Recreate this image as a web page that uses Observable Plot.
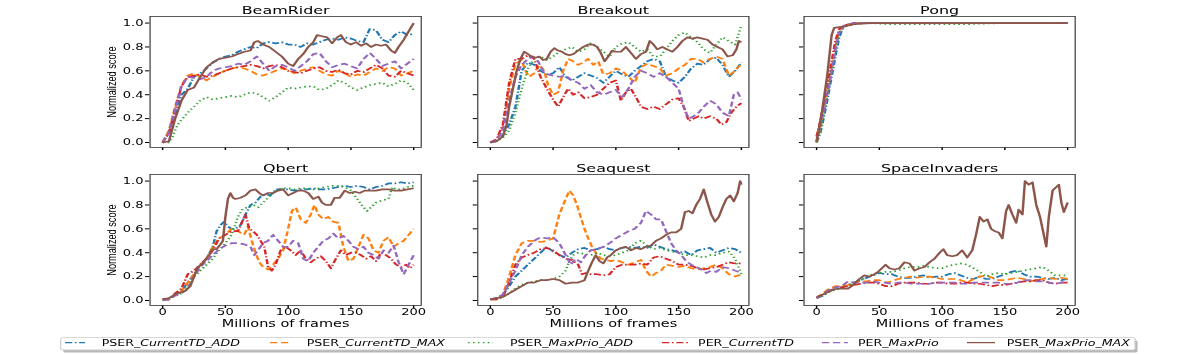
<!DOCTYPE html>
<html><head><meta charset="utf-8">
<script src="https://cdn.jsdelivr.net/npm/d3@7"></script>
<script src="https://cdn.jsdelivr.net/npm/@observablehq/plot@0.6"></script>
<style>
html,body{margin:0;padding:0;background:#fff;overflow:hidden;width:1196px;height:354px;}
#fig{position:absolute;left:0;top:0;width:825px;height:354px;transform:scaleX(1.45);transform-origin:0 0;font-family:"DejaVu Sans";}
.panel{position:absolute;}
</style></head>
<body><div id="fig"></div>
<script>
// ---------------- data ----------------
const games = ["BeamRider", "Breakout", "Pong", "Qbert", "Seaquest", "SpaceInvaders"];
const seriesNames = ["PSER_CurrentTD_ADD", "PSER_CurrentTD_MAX", "PSER_MaxPrio_ADD", "PER_CurrentTD", "PER_MaxPrio", "PSER_MaxPrio_MAX"];
const xTicks = [0, 50, 100, 150, 200];
const yTicks = [0, 0.2, 0.4, 0.6, 0.8, 1.0];
const xLabel = "Millions of frames";
const yLabel = "Normalized score";

// BeamRider
const beamRider_PSER_CurrentTD_ADD = [[0,0],[5,0.08],[10,0.22],[15,0.4],[20,0.45],[25,0.55],[30,0.58],[35,0.62],[40,0.67],[45,0.7],[50,0.72],[55,0.73],[60,0.76],[65,0.78],[70,0.8],[75,0.79],[80,0.83],[85,0.84],[90,0.83],[95,0.84],[100,0.82],[105,0.82],[110,0.8],[115,0.83],[120,0.82],[125,0.84],[130,0.86],[135,0.87],[140,0.86],[145,0.88],[150,0.87],[155,0.85],[160,0.84],[165,0.95],[170,0.94],[175,0.86],[180,0.84],[185,0.9],[190,0.93],[195,0.9],[200,0.91]];
const beamRider_PSER_CurrentTD_MAX = [[0,0],[5,0.1],[10,0.3],[15,0.48],[20,0.56],[25,0.58],[30,0.55],[35,0.52],[40,0.55],[45,0.58],[50,0.6],[55,0.62],[60,0.63],[65,0.62],[70,0.6],[75,0.57],[80,0.56],[85,0.58],[90,0.6],[95,0.62],[100,0.61],[105,0.58],[110,0.6],[115,0.62],[120,0.63],[125,0.6],[130,0.57],[135,0.56],[140,0.6],[145,0.58],[150,0.55],[155,0.57],[160,0.56],[165,0.59],[170,0.62],[175,0.6],[180,0.63],[185,0.62],[190,0.56],[195,0.58],[200,0.6]];
const beamRider_PSER_MaxPrio_ADD = [[0,0],[5,0],[8,0.05],[12,0.15],[16,0.2],[20,0.25],[25,0.3],[30,0.35],[35,0.38],[40,0.36],[45,0.37],[50,0.38],[55,0.39],[60,0.38],[65,0.4],[70,0.42],[75,0.41],[80,0.38],[85,0.35],[90,0.38],[95,0.42],[100,0.46],[105,0.45],[110,0.46],[115,0.47],[120,0.47],[125,0.44],[130,0.45],[135,0.48],[140,0.52],[145,0.5],[150,0.46],[155,0.44],[160,0.46],[165,0.48],[170,0.49],[175,0.5],[180,0.47],[185,0.49],[190,0.52],[195,0.5],[200,0.44]];
const beamRider_PER_CurrentTD = [[0,0],[5,0.08],[10,0.28],[15,0.47],[20,0.55],[25,0.56],[30,0.57],[35,0.55],[40,0.56],[45,0.58],[50,0.6],[55,0.62],[60,0.63],[65,0.64],[70,0.65],[75,0.64],[80,0.62],[85,0.64],[90,0.65],[95,0.63],[100,0.6],[105,0.59],[110,0.58],[115,0.6],[120,0.62],[125,0.63],[130,0.6],[135,0.59],[140,0.61],[145,0.58],[150,0.57],[155,0.6],[160,0.59],[165,0.62],[170,0.65],[175,0.62],[180,0.56],[185,0.55],[190,0.6],[195,0.58],[200,0.56]];
const beamRider_PER_MaxPrio = [[0,0],[5,0.08],[10,0.27],[15,0.47],[20,0.55],[25,0.54],[30,0.53],[35,0.55],[40,0.6],[45,0.62],[50,0.63],[55,0.64],[60,0.66],[65,0.65],[70,0.68],[75,0.72],[80,0.66],[85,0.6],[90,0.64],[95,0.65],[100,0.63],[105,0.6],[110,0.64],[115,0.68],[120,0.74],[125,0.75],[130,0.68],[135,0.63],[140,0.65],[145,0.66],[150,0.64],[155,0.62],[160,0.7],[165,0.75],[170,0.7],[175,0.64],[180,0.66],[185,0.68],[190,0.62],[195,0.66],[200,0.7]];
const beamRider_PSER_MaxPrio_MAX = [[0,0],[5,0.01],[10,0.2],[15,0.35],[20,0.44],[25,0.46],[30,0.55],[35,0.63],[40,0.67],[45,0.7],[50,0.71],[55,0.72],[60,0.74],[65,0.76],[70,0.77],[73,0.84],[76,0.85],[80,0.82],[85,0.8],[90,0.76],[95,0.72],[100,0.66],[104,0.64],[108,0.7],[112,0.74],[116,0.8],[120,0.84],[123,0.9],[127,0.89],[131,0.88],[135,0.83],[139,0.88],[142,0.9],[146,0.84],[150,0.82],[154,0.84],[158,0.81],[162,0.83],[166,0.8],[170,0.82],[174,0.81],[178,0.82],[182,0.77],[185,0.75],[188,0.8],[192,0.86],[196,0.93],[200,1.0]];

// Breakout
const breakout_PSER_CurrentTD_ADD = [[0,0],[5,0.01],[10,0.06],[15,0.15],[20,0.3],[25,0.6],[30,0.67],[35,0.65],[40,0.6],[45,0.57],[50,0.58],[55,0.63],[60,0.55],[65,0.52],[70,0.55],[75,0.58],[80,0.56],[85,0.54],[90,0.5],[95,0.55],[100,0.6],[105,0.57],[110,0.55],[115,0.6],[120,0.64],[125,0.68],[130,0.7],[135,0.68],[140,0.55],[145,0.52],[150,0.5],[155,0.55],[160,0.62],[165,0.66],[170,0.65],[175,0.7],[180,0.71],[185,0.65],[190,0.55],[195,0.6],[200,0.67]];
const breakout_PSER_CurrentTD_MAX = [[0,0],[5,0.02],[10,0.12],[15,0.45],[20,0.66],[25,0.69],[28,0.6],[31,0.55],[35,0.58],[39,0.65],[43,0.6],[46,0.48],[50,0.4],[54,0.42],[58,0.6],[62,0.7],[66,0.68],[70,0.65],[74,0.67],[78,0.7],[82,0.65],[86,0.68],[90,0.57],[95,0.58],[100,0.62],[105,0.6],[110,0.55],[115,0.5],[120,0.63],[125,0.66],[130,0.64],[135,0.62],[140,0.56],[145,0.58],[150,0.62],[155,0.65],[160,0.7],[165,0.7],[170,0.67],[175,0.7],[180,0.72],[185,0.7],[190,0.56],[195,0.6],[200,0.66]];
const breakout_PSER_MaxPrio_ADD = [[0,0],[5,0.01],[10,0.04],[15,0.1],[20,0.25],[25,0.45],[30,0.62],[35,0.7],[40,0.72],[45,0.69],[50,0.72],[55,0.76],[60,0.78],[65,0.8],[70,0.76],[75,0.78],[80,0.83],[85,0.8],[90,0.76],[95,0.72],[100,0.8],[105,0.83],[110,0.84],[115,0.8],[120,0.76],[125,0.78],[130,0.72],[135,0.72],[140,0.78],[145,0.85],[150,0.9],[155,0.92],[160,0.88],[165,0.84],[170,0.78],[175,0.75],[180,0.82],[185,0.88],[190,0.85],[195,0.82],[200,0.98]];
const breakout_PER_CurrentTD = [[0,0],[5,0.03],[10,0.15],[15,0.5],[20,0.7],[25,0.7],[30,0.73],[35,0.7],[40,0.55],[45,0.45],[50,0.36],[54,0.3],[58,0.38],[62,0.45],[66,0.4],[70,0.42],[75,0.37],[80,0.38],[85,0.4],[90,0.45],[95,0.5],[100,0.52],[104,0.35],[108,0.42],[112,0.45],[116,0.38],[120,0.3],[125,0.28],[130,0.3],[135,0.28],[140,0.32],[145,0.36],[150,0.37],[154,0.3],[158,0.18],[162,0.2],[166,0.22],[170,0.2],[175,0.22],[180,0.2],[184,0.15],[188,0.17],[192,0.25],[196,0.3],[200,0.33]];
const breakout_PER_MaxPrio = [[0,0],[5,0.02],[10,0.1],[15,0.35],[20,0.55],[25,0.65],[30,0.7],[34,0.72],[38,0.68],[42,0.6],[46,0.57],[50,0.56],[55,0.55],[60,0.56],[65,0.52],[70,0.5],[75,0.45],[80,0.48],[85,0.42],[90,0.4],[95,0.42],[100,0.44],[105,0.38],[110,0.45],[115,0.55],[120,0.6],[125,0.58],[130,0.55],[135,0.58],[140,0.55],[145,0.5],[150,0.45],[154,0.3],[158,0.2],[162,0.22],[166,0.25],[170,0.3],[175,0.35],[180,0.32],[185,0.25],[190,0.22],[194,0.4],[197,0.42],[200,0.36]];
const breakout_PSER_MaxPrio_MAX = [[0,0],[5,0.01],[10,0.05],[13,0.15],[15,0.3],[18,0.45],[21,0.6],[24,0.7],[27,0.76],[30,0.74],[33,0.72],[36,0.71],[39,0.72],[42,0.69],[45,0.7],[48,0.76],[51,0.79],[54,0.77],[57,0.76],[60,0.74],[63,0.73],[66,0.74],[70,0.77],[74,0.8],[78,0.82],[82,0.82],[85,0.8],[88,0.75],[91,0.68],[94,0.72],[97,0.77],[100,0.76],[104,0.76],[108,0.8],[112,0.75],[116,0.7],[120,0.74],[124,0.76],[127,0.85],[130,0.82],[133,0.78],[137,0.8],[141,0.78],[145,0.76],[149,0.8],[153,0.85],[157,0.88],[161,0.87],[165,0.88],[169,0.87],[173,0.86],[177,0.82],[181,0.8],[185,0.78],[189,0.72],[193,0.73],[196,0.78],[198,0.85],[200,0.84]];

// Pong
const pong_PSER_CurrentTD_ADD = [[0,0],[3,0.08],[6,0.22],[9,0.38],[12,0.55],[15,0.72],[18,0.88],[21,0.96],[25,0.99],[30,1],[100,1],[200,1]];
const pong_PSER_CurrentTD_MAX = [[0,0],[3,0.12],[6,0.3],[9,0.45],[12,0.62],[15,0.8],[18,0.93],[22,0.98],[30,1],[100,1],[200,1]];
const pong_PSER_MaxPrio_ADD = [[0,0],[3,0.1],[6,0.25],[9,0.42],[12,0.6],[15,0.78],[18,0.92],[22,0.97],[30,0.99],[40,1],[60,0.99],[80,0.99],[100,0.99],[120,0.99],[130,0.995],[150,1],[200,1]];
const pong_PER_CurrentTD = [[0,0.05],[3,0.18],[6,0.35],[9,0.5],[12,0.68],[15,0.85],[18,0.95],[22,0.98],[30,1],[100,1],[200,1]];
const pong_PER_MaxPrio = [[0,0.01],[3,0.15],[6,0.28],[9,0.43],[12,0.6],[15,0.78],[18,0.92],[22,0.98],[30,1],[100,1],[200,1]];
const pong_PSER_MaxPrio_MAX = [[0,0.01],[2,0.12],[4.5,0.27],[8.6,0.57],[12,0.9],[14,0.96],[21,0.97],[30,0.99],[43,1],[100,1],[200,1]];

// Qbert
const qbert_PSER_CurrentTD_ADD = [[0,0.01],[5,0.01],[10,0.05],[15,0.08],[20,0.15],[25,0.22],[30,0.3],[35,0.35],[40,0.45],[43,0.58],[46,0.63],[49,0.66],[52,0.62],[55,0.6],[58,0.6],[62,0.63],[66,0.72],[70,0.8],[74,0.82],[78,0.87],[82,0.89],[86,0.88],[90,0.93],[95,0.93],[100,0.93],[105,0.92],[110,0.93],[115,0.93],[120,0.94],[125,0.93],[130,0.93],[135,0.94],[140,0.95],[145,0.96],[150,0.95],[155,0.96],[160,0.95],[165,0.93],[170,0.95],[175,0.96],[180,0.98],[185,0.98],[190,0.99],[195,0.98],[200,0.99]];
const qbert_PSER_CurrentTD_MAX = [[0,0.01],[5,0.01],[10,0.05],[15,0.08],[20,0.15],[25,0.22],[30,0.3],[35,0.35],[40,0.45],[45,0.52],[50,0.55],[55,0.6],[60,0.58],[65,0.55],[68,0.62],[71,0.5],[74,0.4],[77,0.32],[80,0.28],[84,0.26],[88,0.3],[92,0.35],[96,0.42],[100,0.6],[103,0.75],[106,0.78],[110,0.68],[114,0.65],[118,0.72],[121,0.8],[124,0.72],[128,0.68],[132,0.7],[136,0.66],[140,0.65],[144,0.45],[148,0.33],[152,0.35],[156,0.45],[160,0.55],[164,0.52],[168,0.42],[172,0.4],[176,0.5],[180,0.53],[184,0.45],[188,0.48],[192,0.5],[196,0.55],[200,0.6]];
const qbert_PSER_MaxPrio_ADD = [[0,0.01],[5,0.01],[10,0.04],[15,0.06],[20,0.12],[25,0.2],[30,0.25],[35,0.3],[40,0.35],[45,0.42],[50,0.48],[55,0.55],[60,0.7],[64,0.77],[68,0.78],[72,0.8],[76,0.78],[80,0.82],[84,0.86],[88,0.9],[92,0.93],[96,0.94],[100,0.94],[105,0.93],[110,0.94],[115,0.94],[120,0.93],[125,0.94],[130,0.95],[135,0.96],[140,0.96],[145,0.95],[150,0.92],[155,0.85],[160,0.78],[163,0.75],[166,0.78],[170,0.82],[175,0.84],[180,0.85],[183,0.95],[186,0.93],[190,0.93],[195,0.95],[200,0.96]];
const qbert_PER_CurrentTD = [[0,0.01],[5,0.01],[10,0.06],[15,0.1],[20,0.22],[25,0.25],[30,0.3],[35,0.35],[40,0.42],[45,0.52],[50,0.55],[55,0.58],[60,0.58],[63,0.65],[66,0.72],[69,0.6],[72,0.58],[75,0.55],[78,0.5],[81,0.45],[84,0.28],[87,0.25],[90,0.3],[94,0.42],[98,0.45],[102,0.42],[106,0.38],[110,0.42],[114,0.35],[118,0.32],[122,0.35],[126,0.37],[130,0.33],[134,0.27],[138,0.35],[142,0.42],[146,0.38],[150,0.4],[154,0.4],[158,0.38],[162,0.35],[166,0.37],[170,0.33],[174,0.4],[178,0.38],[182,0.35],[186,0.3],[190,0.28],[194,0.3],[197,0.27],[200,0.3]];
const qbert_PER_MaxPrio = [[0,0],[5,0.01],[10,0.04],[15,0.06],[20,0.1],[25,0.2],[30,0.28],[35,0.33],[40,0.38],[45,0.43],[50,0.46],[55,0.48],[60,0.48],[65,0.47],[70,0.45],[73,0.38],[76,0.42],[80,0.48],[84,0.5],[88,0.55],[92,0.5],[96,0.45],[100,0.45],[104,0.5],[108,0.48],[112,0.35],[116,0.33],[120,0.4],[124,0.45],[128,0.5],[132,0.52],[136,0.56],[140,0.52],[144,0.54],[148,0.5],[152,0.45],[156,0.43],[160,0.45],[164,0.4],[168,0.38],[172,0.35],[176,0.42],[180,0.4],[184,0.46],[188,0.32],[192,0.22],[196,0.3],[200,0.38]];
const qbert_PSER_MaxPrio_MAX = [[0,0.01],[5,0.02],[10,0.05],[15,0.07],[18,0.08],[22,0.12],[25,0.2],[28,0.28],[31,0.3],[34,0.34],[37,0.38],[40,0.43],[43,0.43],[46,0.47],[48,0.5],[50,0.7],[52,0.85],[54,0.9],[56,0.86],[58,0.85],[62,0.86],[66,0.88],[70,0.92],[74,0.93],[77,0.9],[80,0.88],[84,0.9],[88,0.9],[92,0.92],[96,0.93],[100,0.88],[104,0.9],[108,0.92],[112,0.92],[116,0.9],[120,0.85],[124,0.87],[127,0.82],[130,0.8],[134,0.8],[137,0.86],[141,0.86],[145,0.92],[149,0.9],[153,0.91],[157,0.9],[161,0.92],[165,0.92],[170,0.92],[175,0.93],[180,0.93],[185,0.92],[190,0.92],[195,0.93],[200,0.94]];

// Seaquest
const seaquest_PSER_CurrentTD_ADD = [[0,0.01],[5,0.02],[10,0.05],[15,0.12],[20,0.2],[25,0.25],[30,0.3],[35,0.35],[40,0.4],[45,0.45],[50,0.41],[55,0.38],[60,0.36],[65,0.4],[70,0.43],[75,0.44],[80,0.42],[85,0.43],[90,0.45],[95,0.43],[100,0.42],[105,0.44],[110,0.45],[115,0.44],[120,0.45],[125,0.44],[130,0.47],[135,0.45],[140,0.43],[145,0.42],[150,0.4],[155,0.41],[160,0.38],[165,0.42],[170,0.43],[175,0.44],[180,0.4],[185,0.42],[190,0.44],[195,0.43],[200,0.4]];
const seaquest_PSER_CurrentTD_MAX = [[0,0.01],[5,0.01],[10,0.05],[15,0.2],[20,0.38],[25,0.48],[30,0.5],[35,0.5],[40,0.49],[45,0.5],[50,0.52],[55,0.72],[60,0.85],[63,0.92],[66,0.88],[69,0.8],[72,0.7],[75,0.6],[78,0.52],[81,0.45],[84,0.4],[88,0.35],[92,0.34],[96,0.33],[100,0.34],[105,0.32],[110,0.3],[115,0.32],[120,0.34],[124,0.25],[128,0.2],[132,0.23],[136,0.25],[140,0.3],[145,0.29],[150,0.28],[155,0.29],[160,0.27],[165,0.26],[170,0.27],[175,0.28],[180,0.3],[185,0.27],[190,0.22],[195,0.2],[200,0.22]];
const seaquest_PSER_MaxPrio_ADD = [[0,0.01],[5,0.01],[10,0.03],[15,0.06],[20,0.1],[25,0.13],[30,0.15],[35,0.16],[40,0.17],[45,0.17],[50,0.18],[55,0.2],[60,0.25],[63,0.33],[66,0.38],[70,0.4],[75,0.39],[80,0.38],[85,0.4],[90,0.38],[95,0.37],[100,0.38],[105,0.4],[110,0.42],[115,0.48],[120,0.5],[125,0.46],[130,0.43],[135,0.44],[140,0.42],[145,0.41],[150,0.4],[155,0.38],[160,0.38],[165,0.37],[170,0.36],[175,0.38],[180,0.38],[185,0.4],[190,0.41],[195,0.35],[200,0.22]];
const seaquest_PER_CurrentTD = [[0,0.01],[5,0.01],[10,0.03],[15,0.15],[20,0.3],[25,0.36],[30,0.38],[35,0.4],[40,0.43],[45,0.44],[50,0.42],[55,0.38],[60,0.35],[65,0.34],[70,0.3],[73,0.22],[76,0.23],[80,0.22],[85,0.22],[90,0.21],[95,0.22],[100,0.28],[105,0.3],[110,0.3],[115,0.3],[120,0.31],[125,0.3],[130,0.36],[135,0.37],[140,0.35],[145,0.33],[150,0.3],[155,0.3],[160,0.29],[165,0.27],[170,0.26],[175,0.27],[180,0.28],[185,0.3],[190,0.32],[195,0.31],[200,0.31]];
const seaquest_PER_MaxPrio = [[0,0.01],[5,0.02],[10,0.05],[15,0.15],[20,0.25],[25,0.38],[30,0.45],[35,0.5],[40,0.53],[45,0.52],[50,0.53],[55,0.48],[60,0.38],[64,0.3],[68,0.35],[72,0.32],[76,0.38],[80,0.42],[85,0.43],[90,0.45],[95,0.48],[100,0.52],[105,0.55],[110,0.58],[115,0.6],[120,0.65],[124,0.75],[128,0.72],[132,0.68],[136,0.68],[140,0.58],[144,0.48],[148,0.42],[152,0.38],[156,0.33],[160,0.3],[164,0.28],[168,0.26],[172,0.23],[176,0.25],[180,0.24],[185,0.28],[190,0.27],[195,0.25],[200,0.23]];
const seaquest_PSER_MaxPrio_MAX = [[0,0.01],[5,0.02],[10,0.03],[15,0.06],[20,0.09],[25,0.12],[30,0.15],[35,0.15],[40,0.17],[45,0.17],[50,0.18],[55,0.17],[60,0.14],[65,0.15],[70,0.15],[75,0.17],[78,0.25],[81,0.32],[84,0.38],[87,0.33],[90,0.31],[93,0.36],[96,0.38],[100,0.42],[104,0.44],[108,0.45],[112,0.42],[116,0.44],[120,0.43],[124,0.45],[128,0.46],[132,0.5],[136,0.52],[140,0.55],[144,0.57],[148,0.57],[152,0.6],[155,0.74],[158,0.75],[161,0.73],[164,0.8],[167,0.85],[170,0.93],[173,0.82],[176,0.72],[179,0.66],[182,0.7],[185,0.78],[188,0.85],[191,0.88],[194,0.83],[197,0.9],[199,1.0],[200,0.97]];

// SpaceInvaders
const spaceInvaders_PSER_CurrentTD_ADD = [[0,0.02],[5,0.04],[10,0.08],[15,0.1],[20,0.11],[25,0.13],[30,0.15],[35,0.17],[40,0.19],[45,0.21],[50,0.23],[55,0.22],[60,0.22],[65,0.2],[70,0.19],[75,0.19],[80,0.2],[85,0.21],[90,0.19],[95,0.2],[100,0.2],[105,0.22],[110,0.23],[115,0.21],[120,0.19],[125,0.18],[130,0.2],[135,0.18],[140,0.18],[145,0.2],[150,0.22],[155,0.24],[160,0.25],[165,0.22],[170,0.2],[175,0.2],[180,0.19],[185,0.18],[190,0.19],[195,0.17],[200,0.18]];
const spaceInvaders_PSER_CurrentTD_MAX = [[0,0.02],[5,0.06],[10,0.1],[15,0.12],[20,0.12],[25,0.13],[30,0.15],[35,0.16],[40,0.16],[45,0.17],[50,0.17],[55,0.15],[60,0.16],[65,0.18],[70,0.19],[75,0.2],[80,0.19],[85,0.2],[90,0.2],[95,0.19],[100,0.18],[105,0.18],[110,0.18],[115,0.17],[120,0.15],[125,0.18],[130,0.2],[135,0.21],[140,0.19],[145,0.17],[150,0.17],[155,0.18],[160,0.19],[165,0.18],[170,0.16],[175,0.17],[180,0.18],[185,0.19],[190,0.18],[195,0.19],[200,0.18]];
const spaceInvaders_PSER_MaxPrio_ADD = [[0,0.02],[5,0.04],[10,0.07],[15,0.09],[20,0.1],[25,0.12],[30,0.15],[35,0.17],[40,0.2],[45,0.22],[50,0.23],[55,0.24],[60,0.24],[65,0.25],[70,0.27],[75,0.28],[80,0.28],[85,0.29],[90,0.28],[95,0.27],[100,0.27],[105,0.29],[110,0.3],[115,0.31],[120,0.3],[125,0.27],[130,0.24],[135,0.2],[140,0.22],[145,0.23],[150,0.22],[155,0.23],[160,0.24],[165,0.25],[170,0.26],[175,0.27],[180,0.28],[185,0.25],[190,0.21],[195,0.21],[200,0.21]];
const spaceInvaders_PER_CurrentTD = [[0,0.02],[5,0.05],[10,0.08],[15,0.1],[20,0.11],[25,0.12],[30,0.13],[35,0.14],[40,0.15],[45,0.15],[50,0.14],[55,0.12],[60,0.12],[65,0.14],[70,0.15],[75,0.15],[80,0.15],[85,0.14],[90,0.14],[95,0.15],[100,0.15],[105,0.14],[110,0.14],[115,0.15],[120,0.15],[125,0.14],[130,0.14],[135,0.13],[140,0.12],[145,0.13],[150,0.13],[155,0.14],[160,0.15],[165,0.16],[170,0.16],[175,0.17],[180,0.17],[185,0.15],[190,0.14],[195,0.15],[200,0.15]];
const spaceInvaders_PER_MaxPrio = [[0,0.02],[5,0.05],[10,0.09],[15,0.11],[20,0.12],[25,0.16],[30,0.15],[35,0.15],[40,0.15],[45,0.16],[50,0.15],[55,0.15],[60,0.14],[65,0.15],[70,0.15],[75,0.14],[80,0.14],[85,0.14],[90,0.14],[95,0.15],[100,0.15],[105,0.15],[110,0.15],[115,0.14],[120,0.14],[125,0.15],[130,0.15],[135,0.15],[140,0.15],[145,0.15],[150,0.14],[155,0.14],[160,0.15],[165,0.17],[170,0.17],[175,0.16],[180,0.16],[185,0.15],[190,0.14],[195,0.15],[200,0.16]];
const spaceInvaders_PSER_MaxPrio_MAX = [[0,0.03],[5,0.05],[9,0.07],[13,0.09],[17,0.1],[21,0.1],[25,0.1],[28,0.12],[30,0.14],[34,0.18],[38,0.21],[42,0.2],[46,0.22],[49,0.24],[52,0.27],[55,0.3],[58,0.27],[62,0.26],[66,0.27],[70,0.32],[74,0.31],[78,0.25],[82,0.27],[86,0.28],[90,0.32],[94,0.35],[98,0.4],[101,0.43],[104,0.38],[108,0.37],[112,0.38],[116,0.42],[120,0.36],[124,0.42],[127,0.55],[130,0.7],[133,0.66],[136,0.68],[139,0.6],[142,0.58],[145,0.57],[148,0.52],[151,0.75],[153,0.8],[156,0.72],[159,0.65],[161,0.76],[164,0.72],[166,1.0],[169,0.97],[172,0.99],[175,0.8],[178,0.7],[181,0.55],[183,0.45],[185,0.7],[188,0.92],[191,0.95],[193,0.97],[195,0.82],[197,0.74],[200,0.82]];

// table built from the arrays above
const gameSeries = [
  [beamRider_PSER_CurrentTD_ADD, beamRider_PSER_CurrentTD_MAX, beamRider_PSER_MaxPrio_ADD, beamRider_PER_CurrentTD, beamRider_PER_MaxPrio, beamRider_PSER_MaxPrio_MAX],
  [breakout_PSER_CurrentTD_ADD, breakout_PSER_CurrentTD_MAX, breakout_PSER_MaxPrio_ADD, breakout_PER_CurrentTD, breakout_PER_MaxPrio, breakout_PSER_MaxPrio_MAX],
  [pong_PSER_CurrentTD_ADD, pong_PSER_CurrentTD_MAX, pong_PSER_MaxPrio_ADD, pong_PER_CurrentTD, pong_PER_MaxPrio, pong_PSER_MaxPrio_MAX],
  [qbert_PSER_CurrentTD_ADD, qbert_PSER_CurrentTD_MAX, qbert_PSER_MaxPrio_ADD, qbert_PER_CurrentTD, qbert_PER_MaxPrio, qbert_PSER_MaxPrio_MAX],
  [seaquest_PSER_CurrentTD_ADD, seaquest_PSER_CurrentTD_MAX, seaquest_PSER_MaxPrio_ADD, seaquest_PER_CurrentTD, seaquest_PER_MaxPrio, seaquest_PSER_MaxPrio_MAX],
  [spaceInvaders_PSER_CurrentTD_ADD, spaceInvaders_PSER_CurrentTD_MAX, spaceInvaders_PSER_MaxPrio_ADD, spaceInvaders_PER_CurrentTD, spaceInvaders_PER_MaxPrio, spaceInvaders_PSER_MaxPrio_MAX]
];

// ---------------- styles / layout ----------------
const seriesStyle = [
  {stroke: "#1f77b4", dash: "5,1.8,1.2,1.8"},
  {stroke: "#ff7f0e", dash: "5,2.6"},
  {stroke: "#2ca02c", dash: "1.1,2.3"},
  {stroke: "#d62728", dash: "5,1.8,1.2,1.8"},
  {stroke: "#9467bd", dash: "5,2.6"},
  {stroke: "#8c564b", dash: null}
];
const frameLeft = [103.0, 328.8, 554.0];
const frameTop = [15.7, 174];
const FW = 187, FH = 131;
const mL = 30, mR = 4, mT = 18, mB = 30;

const fig = document.getElementById("fig");

games.forEach((game, i) => {
  const col = i % 3, row = Math.floor(i / 3);
  const marks = [];
  gameSeries[i].forEach((pts, k) => {
    const st = seriesStyle[k];
    const opts = {x: d => d[0], y: d => d[1], stroke: st.stroke, strokeWidth: 1.7, strokeLinecap: "butt"};
    if (st.dash) opts.strokeDasharray = st.dash;
    marks.push(Plot.line(pts, opts));
  });
  marks.push(Plot.frame({stroke: "#333", strokeWidth: 0.8}));
  marks.push(Plot.text([game], {text: d => d, frameAnchor: "top", lineAnchor: "bottom", dy: -2.5, fontSize: 11, fill: "#000"}));
  if (col === 0) {
    marks.push(Plot.text([yLabel], {text: d => d, frameAnchor: "left", rotate: -90, dx: -26.5, fontSize: 9.2, fontFamily: "Liberation Sans", textAnchor: "middle", lineAnchor: "middle", fill: "#000"}));
  }
  if (row === 1) {
    marks.push(Plot.text([xLabel], {text: d => d, frameAnchor: "bottom", lineAnchor: "top", dy: 14.3, fontSize: 10, fill: "#000"}));
  }
  const chart = Plot.plot({
    width: mL + FW + mR,
    height: mT + FH + mB,
    marginLeft: mL, marginRight: mR, marginTop: mT, marginBottom: mB,
    style: {background: "transparent", overflow: "visible", fontSize: "9px", fontFamily: "DejaVu Sans", color: "#000", maxWidth: "none"},
    x: {domain: [-10, 206], ticks: xTicks, tickSize: 3, tickPadding: 0.5, tickFormat: row === 1 ? (d => String(d)) : (() => ""), label: null},
    y: {domain: [-0.042, 1.055], ticks: yTicks, tickSize: 3, tickPadding: 1.5, tickFormat: col === 0 ? (d => d.toFixed(1)) : (() => ""), label: null},
    marks
  });
  const wrap = document.createElement("div");
  wrap.className = "panel";
  wrap.style.left = (frameLeft[col] - mL) + "px";
  wrap.style.top = (frameTop[row] - mT) + "px";
  wrap.appendChild(chart);
  fig.appendChild(wrap);
});

// ---------------- legend ----------------
const legendHandle = [[44.8, 58.6], [186.2, 200], [322.8, 340], [456.6, 474.5], [566.9, 584.8], [666.9, 686.2]];
const legendTextX = [70.1, 211.5, 351.7, 481.4, 591.7, 694.3];
const ns = "http://www.w3.org/2000/svg";
const lg = document.createElementNS(ns, "svg");
lg.setAttribute("width", 825); lg.setAttribute("height", 24);
lg.style.position = "absolute"; lg.style.left = "0px"; lg.style.top = "330px"; lg.style.overflow = "visible";
function el(tag, attrs, parent) { const e = document.createElementNS(ns, tag); for (const k in attrs) e.setAttribute(k, attrs[k]); parent.appendChild(e); return e; }
el("rect", {x: 43.6, y: 10.2, width: 740.9, height: 12.3, rx: 1.5, fill: "#999", opacity: 0.7}, lg);
el("rect", {x: 41.9, y: 7.7, width: 740.9, height: 12.3, rx: 1.5, fill: "#fff", stroke: "#ccc", "stroke-width": 0.8}, lg);
seriesNames.forEach((name, k) => {
  const st = seriesStyle[k];
  const ln = el("line", {x1: legendHandle[k][0], x2: legendHandle[k][1], y1: 12.6, y2: 12.6, stroke: st.stroke, "stroke-width": 1.3}, lg);
  if (st.dash) ln.setAttribute("stroke-dasharray", st.dash);
  const t = el("text", {x: legendTextX[k], y: 12.6, "font-size": 8.7, "font-family": "DejaVu Sans", "dominant-baseline": "central", fill: "#000"}, lg);
  const u = name.indexOf("_");
  const a = el("tspan", {}, t); a.textContent = name.slice(0, u + 1);
  const b = el("tspan", {"font-style": "italic"}, t); b.textContent = name.slice(u + 1);
});
fig.appendChild(lg);
</script>
</body></html>
